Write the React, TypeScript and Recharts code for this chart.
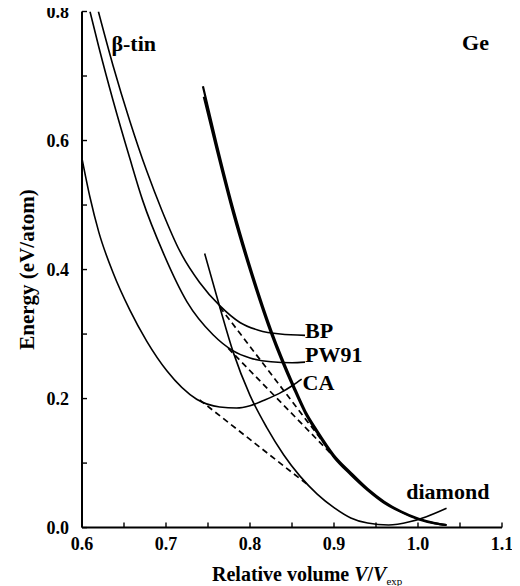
import { LineChart, Line, XAxis, YAxis, ReferenceDot } from "recharts";

const SERIF = "'Liberation Serif', 'DejaVu Serif', serif";

// axis ticks
const xTicks = [0.6, 0.65, 0.7, 0.75, 0.8, 0.85, 0.9, 0.95, 1.0, 1.05, 1.1];
const yTicks = [0, 0.1, 0.2, 0.3, 0.4, 0.5, 0.6, 0.7, 0.8];

// beta-tin curves (relative volume, energy eV/atom)
const caTinV = [0.6, 0.6095, 0.62, 0.637, 0.657, 0.677, 0.701, 0.7365, 0.764, 0.784, 0.8, 0.816, 0.835, 0.8516, 0.8615];
const caTinE = [0.572, 0.512, 0.458, 0.395, 0.337, 0.289, 0.243, 0.199, 0.187, 0.1855, 0.189, 0.197, 0.208, 0.221, 0.23];

const pwTinV = [0.6095, 0.62, 0.637, 0.657, 0.672, 0.697, 0.725, 0.756, 0.78, 0.8, 0.825, 0.85, 0.8655];
const pwTinE = [0.8, 0.745, 0.662, 0.572, 0.508, 0.425, 0.35, 0.299, 0.274, 0.263, 0.257, 0.2555, 0.2565];

const bpTinV = [0.6195, 0.637, 0.657, 0.677, 0.695, 0.7167, 0.74, 0.764, 0.788, 0.81, 0.836, 0.8655];
const bpTinE = [0.8, 0.716, 0.63, 0.553, 0.492, 0.428, 0.38, 0.344, 0.318, 0.306, 0.3, 0.298];

// diamond curves
const caDiaV = [0.746, 0.764, 0.78, 0.8, 0.82, 0.84, 0.86, 0.88, 0.9, 0.92, 0.94, 0.965, 0.99, 1.01, 1.034];
const caDiaE = [0.425, 0.342, 0.272, 0.205, 0.155, 0.113, 0.079, 0.052, 0.031, 0.015, 0.007, 0.004, 0.009, 0.017, 0.03];

const bpDiaV = [0.744, 0.76, 0.78, 0.8, 0.826, 0.852, 0.866, 0.88, 0.9, 0.92, 0.94, 0.96, 0.98, 1.0, 1.02, 1.034];
const bpDiaE = [0.684, 0.596, 0.494, 0.405, 0.303, 0.22, 0.18, 0.15, 0.112, 0.085, 0.06, 0.04, 0.025, 0.014, 0.007, 0.004];

const pwDiaV = [0.745, 0.76, 0.78, 0.8, 0.826, 0.852, 0.866, 0.88, 0.9, 0.92, 0.94, 0.96, 0.98, 1.0, 1.02, 1.034];
const pwDiaE = [0.668, 0.588, 0.487, 0.399, 0.298, 0.216, 0.177, 0.147, 0.109, 0.082, 0.058, 0.038, 0.024, 0.013, 0.0065, 0.004];

// common tangents
const caTanV = [0.74, 0.871];
const caTanE = [0.198, 0.064];
const pwTanV = [0.774, 0.905];
const pwTanE = [0.278, 0.103];
const bpTanV = [0.764, 0.898];
const bpTanE = [0.342, 0.114];

const pts = (v: number[], e: number[]) => v.map((x, i) => ({ v: x, e: e[i] }));

const xFmt = (v: number) =>
  Math.abs(v * 10 - Math.round(v * 10)) < 1e-6 ? v.toFixed(1) : "";
const yFmt = (v: number) =>
  Math.round(v * 10) % 2 === 0 ? v.toFixed(1) : "";

const TICK = 5;
const XM = 10; // gap between axis and x tick text
const YM = 13; // gap between axis and y tick text
const tickFont = { fill: "#000", fontSize: 18, fontWeight: "bold", fontFamily: SERIF };
const labelStyle = { fill: "#000", fontSize: 22, fontWeight: "bold", fontFamily: SERIF };
const frameLine = { stroke: "#000", strokeWidth: 2 };

// tick marks pointing into the plot
const BottomTick = ({ x, y, payload }: any) => {
  const ax = Number(x);
  const ay = Number(y);
  return (
    <g>
      <line x1={ax} x2={ax} y1={ay - XM} y2={ay - XM - TICK} stroke="#000" strokeWidth={1.4} />
      <text x={ax} y={ay} dy="0.71em" textAnchor="middle" {...tickFont}>
        {xFmt(payload.value)}
      </text>
    </g>
  );
};

const LeftTick = ({ x, y, payload }: any) => {
  const ax = Number(x);
  const ay = Number(y);
  return (
    <g>
      <line x1={ax + YM} x2={ax + YM + TICK} y1={ay} y2={ay} stroke="#000" strokeWidth={1.4} />
      <text x={ax} y={ay} dy="0.35em" textAnchor="end" {...tickFont}>
        {yFmt(payload.value)}
      </text>
    </g>
  );
};

const TopTick = ({ x, y }: any) => (
  <line x1={Number(x)} x2={Number(x)} y1={Number(y)} y2={Number(y) + TICK} stroke="#000" strokeWidth={1.4} />
);

const RightTick = ({ x, y }: any) => (
  <line x1={Number(x)} x2={Number(x) - TICK} y1={Number(y)} y2={Number(y)} stroke="#000" strokeWidth={1.4} />
);

const XTitle = ({ viewBox }: any) => {
  const x = viewBox.x + 130;
  const y = viewBox.y + 53;
  return (
    <text x={x} y={y} fontFamily={SERIF} fontWeight="bold" fontSize={20} fill="#000">
      Relative volume <tspan fontStyle="italic">V</tspan>/<tspan fontStyle="italic">V</tspan>
      <tspan fontSize={11} fontWeight="normal" dy={4}>exp</tspan>
    </text>
  );
};

const YTitle = ({ viewBox }: any) => {
  const x = viewBox.x + 27;
  const y = viewBox.y + viewBox.height / 2;
  return (
    <text
      x={x}
      y={y}
      transform={`rotate(-90 ${x} ${y})`}
      textAnchor="middle"
      dominantBaseline="central"
      fontFamily={SERIF}
      fontWeight="bold"
      fontSize={21}
      fill="#000"
    >
      Energy (eV/atom)
    </text>
  );
};

const thin = { stroke: "#000", strokeWidth: 1.6, dot: false, isAnimationActive: false, type: "monotone" as const };
const thick = { stroke: "#000", strokeWidth: 2.2, dot: false, isAnimationActive: false, type: "monotone" as const };
const dashed = { stroke: "#000", strokeWidth: 1.7, strokeDasharray: "6 4", dot: false, isAnimationActive: false, type: "linear" as const };

export default function App() {
  return (
    <div style={{ margin: "-8px 0 0 -8px", width: 520, height: 586 }}>
      <LineChart width={520} height={586} margin={{ top: 11.5, right: 18, bottom: 0, left: 0 }}>
        <XAxis
          dataKey="v"
          type="number"
          domain={[0.6, 1.1]}
          ticks={xTicks}
          interval={0}
          allowDataOverflow
          height={58.4}
          tickSize={0}
          tickMargin={XM}
          tick={<BottomTick />}
          axisLine={frameLine}
          tickLine={false}
          label={<XTitle />}
        />
        <XAxis
          xAxisId="top"
          orientation="top"
          dataKey="v"
          type="number"
          domain={[0.6, 1.1]}
          ticks={xTicks}
          interval={0}
          height={0}
          tickSize={0}
          tickMargin={0}
          tick={<TopTick />}
          axisLine={frameLine}
          tickLine={false}
        />
        <YAxis
          type="number"
          domain={[0, 0.8]}
          ticks={yTicks}
          interval={0}
          allowDataOverflow
          width={82}
          tickSize={0}
          tickMargin={YM}
          tick={<LeftTick />}
          axisLine={frameLine}
          tickLine={false}
          label={<YTitle />}
        />
        <YAxis
          yAxisId="right"
          orientation="right"
          type="number"
          domain={[0, 0.8]}
          ticks={yTicks}
          interval={0}
          width={0}
          tickSize={0}
          tickMargin={0}
          tick={<RightTick />}
          axisLine={frameLine}
          tickLine={false}
        />

        <Line {...thin} data={pts(caTinV, caTinE)} dataKey="e" name="CA beta-tin" />
        <Line {...thin} data={pts(pwTinV, pwTinE)} dataKey="e" name="PW91 beta-tin" />
        <Line {...thin} data={pts(bpTinV, bpTinE)} dataKey="e" name="BP beta-tin" />
        <Line {...thin} data={pts(caDiaV, caDiaE)} dataKey="e" name="CA diamond" />
        <Line {...thick} data={pts(bpDiaV, bpDiaE)} dataKey="e" name="BP diamond" />
        <Line {...thick} data={pts(pwDiaV, pwDiaE)} dataKey="e" name="PW91 diamond" />
        <Line {...dashed} data={pts(caTanV, caTanE)} dataKey="e" name="CA tangent" />
        <Line {...dashed} data={pts(pwTanV, pwTanE)} dataKey="e" name="PW91 tangent" />
        <Line {...dashed} data={pts(bpTanV, bpTanE)} dataKey="e" name="BP tangent" />

        <ReferenceDot x={0.8655} y={0.306} r={0} fill="none" stroke="none"
          label={{ value: "BP", position: "right", offset: 0, ...labelStyle }} />
        <ReferenceDot x={0.8655} y={0.269} r={0} fill="none" stroke="none"
          label={{ value: "PW91", position: "right", offset: 0, ...labelStyle }} />
        <ReferenceDot x={0.8625} y={0.226} r={0} fill="none" stroke="none"
          label={{ value: "CA", position: "right", offset: 0, ...labelStyle }} />
        <ReferenceDot x={0.986} y={0.056} r={0} fill="none" stroke="none"
          label={{ value: "diamond", position: "right", offset: 0, ...labelStyle }} />
        <ReferenceDot x={0.635} y={0.751} r={0} fill="none" stroke="none"
          label={{ value: "β-tin", position: "right", offset: 0, ...labelStyle }} />
        <ReferenceDot x={1.0845} y={0.752} r={0} fill="none" stroke="none"
          label={{ value: "Ge", position: "left", offset: 0, ...labelStyle }} />
      </LineChart>
    </div>
  );
}
